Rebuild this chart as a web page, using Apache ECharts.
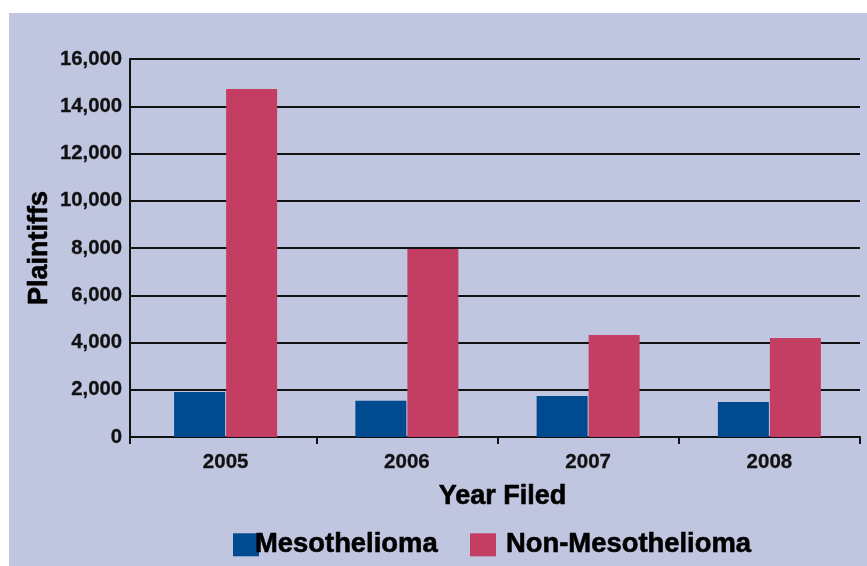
<!DOCTYPE html>
<html>
<head>
<meta charset="utf-8">
<script src="https://cdn.jsdelivr.net/npm/echarts@6/dist/echarts.min.js"></script>
<style>
html,body{margin:0;padding:0;background:#ffffff;}
#wrap{position:absolute;left:9px;top:13px;width:858px;height:553px;background:#c0c5e0;}
#chart{position:absolute;left:0;top:0;width:867px;height:566px;}
</style>
</head>
<body>
<div id="wrap"></div>
<div id="chart"></div>
<script>
const years = ['2005', '2006', '2007', '2008'];
const mesothelioma = [1900, 1530, 1740, 1480];
const nonMesothelioma = [14730, 7960, 4320, 4190];
const yTicks = [0, 2000, 4000, 6000, 8000, 10000, 12000, 14000, 16000];

const chart = echarts.init(document.getElementById('chart'), null, {renderer: 'canvas'});
const font = '"Liberation Sans", Arial, Helvetica, sans-serif';
const heavy = {fontFamily: font, fontWeight: 'bold', color: '#000', textBorderColor: '#000'};
const yMin = yTicks[0], yMax = yTicks[yTicks.length - 1], yStep = yTicks[1] - yTicks[0];
chart.setOption({
  backgroundColor: 'transparent',
  animation: false,
  grid: [
    {left: 130, right: 7, top: 59, bottom: 129, containLabel: false},
    {left: 135, right: 7, top: 59, bottom: 129, containLabel: false}
  ],
  legend: [
    {
      left: 233, top: 531, padding: 0,
      itemWidth: 26, itemHeight: 23, icon: 'rect',
      textStyle: Object.assign({}, heavy, {fontSize: 27.4, textBorderWidth: 0.6, padding: [0, 0, 0, -9]}),
      data: ['Mesothelioma']
    },
    {
      left: 470, top: 531, padding: 0,
      itemWidth: 26, itemHeight: 23, icon: 'rect',
      textStyle: Object.assign({}, heavy, {fontSize: 27.4, textBorderWidth: 0.6, padding: [0, 0, 0, 5]}),
      data: ['Non-Mesothelioma']
    }
  ],
  xAxis: [
    {
      gridIndex: 0, type: 'category', data: [''],
      axisLine: {show: true, lineStyle: {color: '#111', width: 2}},
      axisTick: {show: true, length: 7, lineStyle: {color: '#111', width: 2}},
      axisLabel: {show: false}, splitLine: {show: false}
    },
    {
      gridIndex: 1, type: 'category', data: years,
      name: 'Year Filed', nameLocation: 'middle', nameGap: 46,
      nameTextStyle: Object.assign({}, heavy, {fontSize: 27, textBorderWidth: 0.6, padding: [0, 0, 0, 10]}),
      axisLine: {show: false},
      axisTick: {show: true, length: 7, interval: (i) => i > 0, lineStyle: {color: '#111', width: 2}},
      axisLabel: Object.assign({}, heavy, {margin: 15, fontSize: 20.5, textBorderWidth: 0.3, color: '#111', textBorderColor: '#111'}),
      splitLine: {show: false}
    }
  ],
  yAxis: [
    {
      gridIndex: 0, type: 'value', min: yMin, max: yMax, interval: yStep,
      name: 'Plaintiffs', nameLocation: 'middle', nameGap: 77, nameRotate: 90,
      nameMoveOverlap: false,
      nameTextStyle: Object.assign({}, heavy, {fontSize: 27, textBorderWidth: 0.6}),
      axisLine: {show: true, lineStyle: {color: '#111', width: 2}},
      axisTick: {show: false},
      axisLabel: Object.assign({}, heavy, {margin: 8, fontSize: 20.3, textBorderWidth: 0.3, color: '#111', textBorderColor: '#111',
        formatter: v => v.toLocaleString('en-US')}),
      splitLine: {show: true, lineStyle: {color: '#111', width: 2}}
    },
    {
      gridIndex: 1, type: 'value', min: yMin, max: yMax, interval: yStep,
      show: false, splitLine: {show: false}
    }
  ],
  series: [
    {name: 'Mesothelioma', type: 'bar', xAxisIndex: 1, yAxisIndex: 1, data: mesothelioma,
      barWidth: 51, barGap: '2%', itemStyle: {color: '#004a8f'}},
    {name: 'Non-Mesothelioma', type: 'bar', xAxisIndex: 1, yAxisIndex: 1, data: nonMesothelioma,
      barWidth: 51, barGap: '2%', itemStyle: {color: '#c43d63'}}
  ]
});
</script>
</body>
</html>
